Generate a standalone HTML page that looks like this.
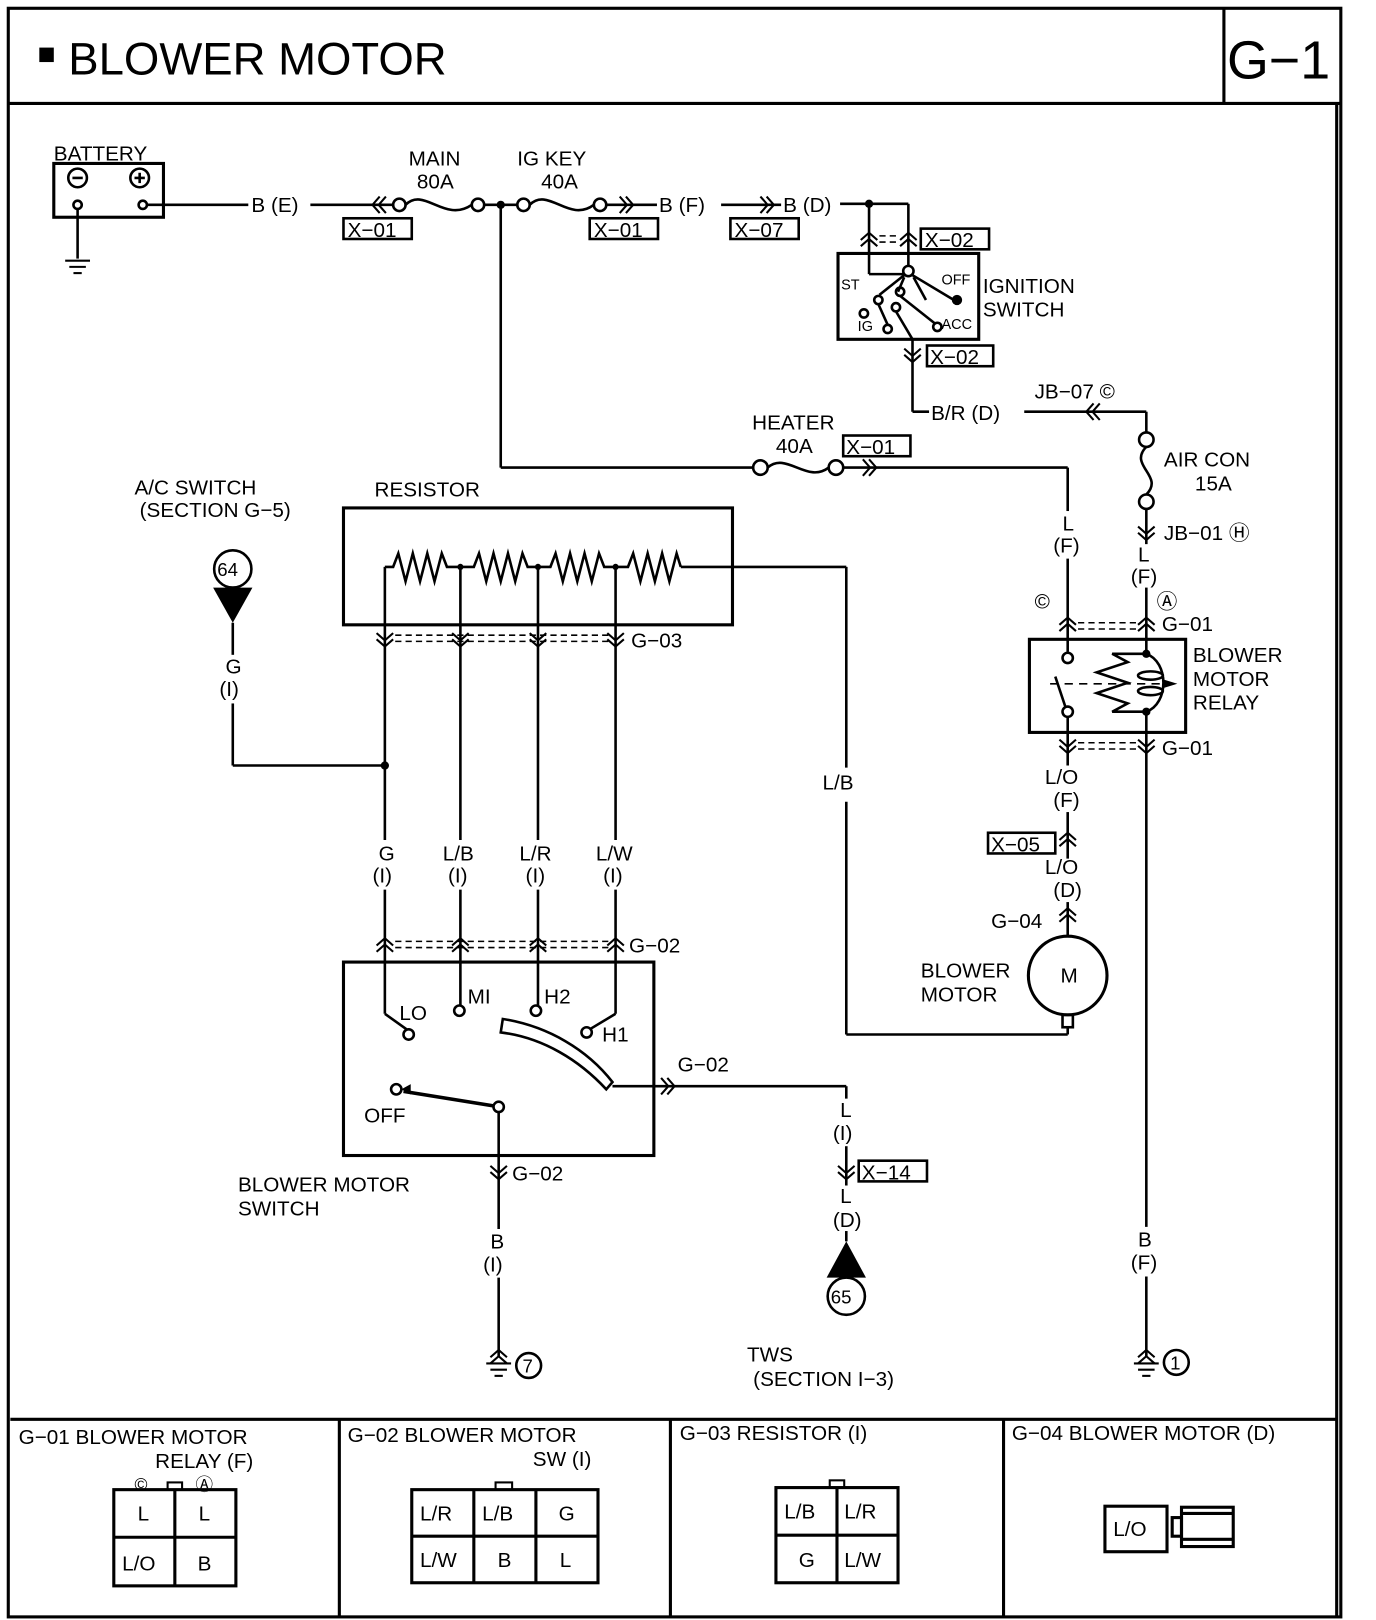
<!DOCTYPE html>
<html><head><meta charset="utf-8"><style>
html,body{margin:0;padding:0;background:#fff}
svg{display:block}
text{font-family:"Liberation Sans",sans-serif;font-size:20px;fill:#000}
</style></head><body>
<svg width="1376" height="1620" viewBox="0 0 1330 1566" preserveAspectRatio="none" xmlns="http://www.w3.org/2000/svg">
<defs>
<g id="cu" fill="none" stroke="#000" stroke-width="2"><polyline points="-8,7 0,0 8,7"/><polyline points="-8,13 0,6 8,13"/></g>
<g id="cd" fill="none" stroke="#000" stroke-width="2"><polyline points="-8,-7 0,0 8,-7"/><polyline points="-8,-13 0,-6 8,-13"/></g>
<g id="cr" fill="none" stroke="#000" stroke-width="2"><polyline points="-7,-8 0,0 -7,8"/><polyline points="-13,-8 -6,0 -13,8"/></g>
<g id="cl" fill="none" stroke="#000" stroke-width="2"><polyline points="7,-8 0,0 7,8"/><polyline points="13,-8 6,0 13,8"/></g>
<g id="gnd" stroke="#000" stroke-width="2"><line x1="-12" y1="0" x2="12" y2="0"/><line x1="-8" y1="6" x2="8" y2="6"/><line x1="-4" y1="12" x2="4" y2="12"/></g>
</defs>
<g fill="none" stroke="#000" stroke-width="3">
<rect x="8" y="8" width="1288" height="1555"/>
<line x1="8" y1="100" x2="1296" y2="100"/>
<line x1="1183" y1="8" x2="1183" y2="100"/>
<line x1="10" y1="1372" x2="1292" y2="1372"/>
<line x1="1292" y1="100" x2="1292" y2="1563"/>
<line x1="328" y1="1372" x2="328" y2="1563"/>
<line x1="648" y1="1372" x2="648" y2="1563"/>
<line x1="970" y1="1372" x2="970" y2="1563"/>
</g>
<rect x="38" y="46" width="14" height="14"/>
<text x="66" y="72" style="font-size:44px">BLOWER MOTOR</text>
<text x="1186" y="76" style="font-size:52px">G−1</text>

<g fill="none" stroke="#000" stroke-width="2.5">
<rect x="52" y="158" width="106" height="52" stroke-width="3"/>
<circle cx="75" cy="172" r="9"/><circle cx="135" cy="172" r="9"/>
<line x1="70" y1="172" x2="80" y2="172"/><line x1="130" y1="172" x2="140" y2="172"/><line x1="135" y1="167" x2="135" y2="177"/>
<circle cx="75" cy="198" r="4"/><circle cx="138" cy="198" r="4"/>
<line x1="75" y1="202" x2="75" y2="250"/>
<line x1="142" y1="198" x2="240" y2="198"/>
<line x1="300" y1="198" x2="380" y2="198"/>
<circle cx="386" cy="198" r="6"/>
<path d="M392,198 C410,180 430,216 456,198"/>
<circle cx="462" cy="198" r="6"/>
<line x1="468" y1="198" x2="500" y2="198"/>
<circle cx="506" cy="198" r="6"/>
<path d="M512,198 C530,180 550,216 574,198"/>
<circle cx="580" cy="198" r="6"/>
<line x1="586" y1="198" x2="635" y2="198"/>
<line x1="697" y1="198" x2="755" y2="198"/>
<line x1="812" y1="197" x2="878" y2="197"/>
<line x1="840" y1="197" x2="840" y2="265"/><line x1="840" y1="265" x2="874" y2="265"/>
<line x1="878" y1="197" x2="878" y2="257"/>
<rect x="810" y="245" width="136" height="83" stroke-width="3"/>
<circle cx="878" cy="262" r="5"/>
<line x1="882" y1="266" x2="922" y2="290"/>
<line x1="874" y1="266" x2="850" y2="285"/>
<line x1="874" y1="268" x2="868" y2="282"/>
<line x1="883" y1="268" x2="895" y2="290"/>
<circle cx="849" cy="290" r="4"/><circle cx="835" cy="303" r="4"/><circle cx="858" cy="318" r="4"/>
<circle cx="870" cy="282" r="4"/><circle cx="866" cy="297" r="4"/><circle cx="906" cy="316" r="4"/>
<line x1="849" y1="294" x2="858" y2="314"/>
<line x1="870" y1="286" x2="904" y2="313"/>
<line x1="866" y1="301" x2="882" y2="328"/>
<line x1="882" y1="328" x2="882" y2="398"/>
<line x1="882" y1="398" x2="898" y2="398"/>
<line x1="990" y1="398" x2="1108" y2="398"/>
<line x1="1108" y1="398" x2="1108" y2="418"/>
<circle cx="1108" cy="425" r="7"/>
<path d="M1108,432 C1090,450 1126,460 1108,478"/>
<circle cx="1108" cy="485" r="7"/>
<line x1="1108" y1="492" x2="1108" y2="526"/>
<line x1="1108" y1="568" x2="1108" y2="618"/>
<line x1="484" y1="198" x2="484" y2="452"/>
<line x1="484" y1="452" x2="728" y2="452"/>
<circle cx="735" cy="452" r="7"/>
<path d="M742,452 C760,436 780,468 801,452"/>
<circle cx="808" cy="452" r="7"/>
<line x1="815" y1="452" x2="1032" y2="452"/>
<line x1="1032" y1="452" x2="1032" y2="494"/>
<line x1="1032" y1="540" x2="1032" y2="630"/>
<rect x="995" y="618" width="151" height="90" stroke-width="3"/>
<circle cx="1032" cy="636" r="5"/><circle cx="1032" cy="688" r="5"/>
<line x1="1020" y1="654" x2="1030" y2="684"/>
<line x1="1032" y1="693" x2="1032" y2="740"/>
<line x1="1108" y1="618" x2="1108" y2="632"/>
<path d="M1108,632 L1075,632 L1090,640 L1060,650 L1090,660 L1060,670 L1090,680 L1075,688 L1108,688"/>
<path d="M1108,632 C1130,640 1130,680 1108,688"/>
<ellipse cx="1112" cy="653" rx="12" ry="4"/><ellipse cx="1112" cy="668" rx="12" ry="4"/>
<line x1="1015" y1="661" x2="1135" y2="661" stroke-dasharray="8,6" stroke-width="1.5"/>
<line x1="1108" y1="688" x2="1108" y2="1186"/>
<line x1="1108" y1="1234" x2="1108" y2="1312"/>
<line x1="1032" y1="785" x2="1032" y2="830"/>
<line x1="1032" y1="872" x2="1032" y2="905"/>
<circle cx="1032" cy="943" r="38" stroke-width="3"/>
<rect x="1027" y="981" width="10" height="12"/>
<line x1="1032" y1="993" x2="1032" y2="1000"/>
<line x1="1032" y1="1000" x2="818" y2="1000"/>
<line x1="818" y1="1000" x2="818" y2="775"/>
<line x1="818" y1="742" x2="818" y2="548"/>
<line x1="818" y1="548" x2="658" y2="548"/>
<rect x="332" y="491" width="376" height="113" stroke-width="3"/>
<path d="M372,548 L380,548 L385,535 L392,562 L399,535 L406,562 L413,535 L420,562 L427,535 L432,548 L458,548 L463,535 L470,562 L477,535 L484,562 L491,535 L498,562 L505,535 L510,548 L532,548 L537,535 L544,562 L551,535 L558,562 L565,535 L572,562 L579,535 L584,548 L607,548 L612,535 L619,562 L626,535 L633,562 L640,535 L647,562 L654,535 L658,548"/>
<line x1="372" y1="548" x2="372" y2="812"/><line x1="372" y1="860" x2="372" y2="980"/><line x1="372" y1="980" x2="393" y2="995"/>
<line x1="445" y1="548" x2="445" y2="812"/><line x1="445" y1="860" x2="445" y2="972"/>
<line x1="520" y1="548" x2="520" y2="812"/><line x1="520" y1="860" x2="520" y2="972"/>
<line x1="595" y1="548" x2="595" y2="812"/><line x1="595" y1="860" x2="595" y2="980"/><line x1="595" y1="980" x2="570" y2="995"/>
<line x1="225" y1="602" x2="225" y2="633"/><line x1="225" y1="680" x2="225" y2="740"/><line x1="225" y1="740" x2="372" y2="740"/>
<circle cx="225" cy="550" r="18"/>
<circle cx="818" cy="1253" r="18"/>
<rect x="332" y="930" width="300" height="187" stroke-width="3"/>
<circle cx="395" cy="1000" r="5"/><circle cx="444" cy="977" r="5"/><circle cx="518" cy="977" r="5"/><circle cx="567" cy="998" r="5"/>
<path d="M486,985 C530,992 568,1015 592,1046 L586,1053 C560,1025 525,1003 484,998 Z"/>
<line x1="592" y1="1050" x2="818" y2="1050"/>
<line x1="818" y1="1050" x2="818" y2="1062"/>
<line x1="818" y1="1108" x2="818" y2="1146"/>
<line x1="818" y1="1190" x2="818" y2="1200"/>
<circle cx="383" cy="1053" r="5"/><circle cx="482" cy="1070" r="5"/>
<line x1="390" y1="1055" x2="477" y2="1069" stroke-width="3.5"/>
<line x1="482" y1="1075" x2="482" y2="1188"/>
<line x1="482" y1="1235" x2="482" y2="1312"/>
<circle cx="511" cy="1320" r="12"/>
<circle cx="1137" cy="1317" r="12"/>
</g>
<polygon points="206,568 244,568 225,602"/>
<polygon points="799,1235 837,1235 818,1200"/>
<polygon points="388,1053 397,1048 397,1058"/>
<circle cx="484" cy="198" r="4"/><circle cx="840" cy="197" r="4"/>
<circle cx="925" cy="290" r="5"/>
<circle cx="372" cy="740" r="4"/><circle cx="445" cy="548" r="3"/><circle cx="520" cy="548" r="3"/><circle cx="595" cy="548" r="3"/>
<circle cx="1108" cy="632" r="4"/><circle cx="1108" cy="688" r="4"/>
<polygon points="1125,657 1138,661 1125,665"/>

<use href="#gnd" x="75" y="252"/>
<use href="#gnd" x="482" y="1318"/><use href="#gnd" x="1108" y="1318"/>
<use href="#cl" x="360" y="198"/><use href="#cr" x="612" y="198"/><use href="#cr" x="748" y="198"/>
<use href="#cu" x="840" y="225"/><use href="#cu" x="878" y="225"/>
<use href="#cd" x="882" y="350"/>
<use href="#cl" x="1050" y="398"/>
<use href="#cd" x="1108" y="522"/>
<use href="#cr" x="847" y="452"/>
<use href="#cu" x="1032" y="597"/><use href="#cu" x="1108" y="597"/>
<use href="#cd" x="1032" y="728"/><use href="#cd" x="1108" y="728"/>
<use href="#cu" x="1032" y="805"/><use href="#cu" x="1032" y="878"/>
<use href="#cd" x="372" y="625"/><use href="#cd" x="445" y="625"/><use href="#cd" x="520" y="625"/><use href="#cd" x="595" y="625"/>
<use href="#cu" x="372" y="907"/><use href="#cu" x="445" y="907"/><use href="#cu" x="520" y="907"/><use href="#cu" x="595" y="907"/>
<use href="#cr" x="652" y="1050"/>
<use href="#cd" x="482" y="1140"/><use href="#cd" x="818" y="1140"/>
<use href="#cu" x="482" y="1305"/><use href="#cu" x="1108" y="1305"/>
<g stroke="#000" stroke-width="1.5" stroke-dasharray="6,4">
<line x1="850" y1="228" x2="870" y2="228"/><line x1="850" y1="234" x2="870" y2="234"/>
<line x1="1042" y1="602" x2="1098" y2="602"/><line x1="1042" y1="608" x2="1098" y2="608"/>
<line x1="1042" y1="718" x2="1098" y2="718"/><line x1="1042" y1="724" x2="1098" y2="724"/>
<line x1="382" y1="614" x2="588" y2="614"/><line x1="382" y1="620" x2="588" y2="620"/>
<line x1="382" y1="910" x2="588" y2="910"/><line x1="382" y1="916" x2="588" y2="916"/>
</g>

<g fill="none" stroke="#000" stroke-width="2.5">
<rect x="332" y="211" width="66" height="20"/><rect x="570" y="211" width="66" height="20"/><rect x="706" y="211" width="66" height="20"/>
<rect x="890" y="221" width="66" height="20"/><rect x="896" y="334" width="64" height="20"/>
<rect x="815" y="421" width="65" height="20"/><rect x="955" y="805" width="65" height="20"/><rect x="830" y="1122" width="66" height="20"/>
</g>
<text x="336" y="229">X−01</text><text x="574" y="229">X−01</text><text x="710" y="229">X−07</text>
<text x="894" y="239">X−02</text><text x="899" y="352">X−02</text><text x="818" y="439">X−01</text>
<text x="958" y="823">X−05</text><text x="833" y="1140">X−14</text>

<text x="52" y="155">BATTERY</text>
<text x="243" y="205">B (E)</text>
<text x="395" y="160">MAIN</text><text x="403" y="182">80A</text>
<text x="500" y="160">IG KEY</text><text x="523" y="182">40A</text>
<text x="637" y="205">B (F)</text><text x="757" y="205">B (D)</text>
<text x="813" y="280" style="font-size:14px">ST</text><text x="910" y="275" style="font-size:14px">OFF</text>
<text x="829" y="320" style="font-size:14px">IG</text><text x="910" y="318" style="font-size:14px">ACC</text>
<text x="950" y="283">IGNITION</text><text x="950" y="306">SWITCH</text>
<text x="900" y="406">B/R (D)</text>
<text x="1000" y="385">JB−07 ©</text>
<text x="1125" y="451">AIR CON</text><text x="1155" y="474">15A</text>
<text x="1125" y="522">JB−01 Ⓗ</text>
<text x="1100" y="543">L</text><text x="1093" y="564">(F)</text>
<text x="1118" y="588">Ⓐ</text><text x="1000" y="588">©</text>
<text x="727" y="415">HEATER</text><text x="750" y="438">40A</text>
<text x="1027" y="513">L</text><text x="1018" y="534">(F)</text>
<text x="1123" y="610">G−01</text><text x="1123" y="730">G−01</text>
<text x="1153" y="640">BLOWER</text><text x="1153" y="663">MOTOR</text><text x="1153" y="686">RELAY</text>
<text x="1010" y="758">L/O</text><text x="1018" y="780">(F)</text>
<text x="1010" y="845">L/O</text><text x="1018" y="867">(D)</text>
<text x="958" y="897">G−04</text>
<text x="1025" y="950">M</text>
<text x="890" y="945">BLOWER</text><text x="890" y="968">MOTOR</text>
<text x="795" y="763">L/B</text>
<text x="1100" y="1205">B</text><text x="1093" y="1227">(F)</text>
<text x="1131" y="1324" style="font-size:18px">1</text>
<text x="362" y="480">RESISTOR</text>
<text x="130" y="478">A/C SWITCH</text><text x="135" y="500">(SECTION G−5)</text>
<text x="210" y="557" style="font-size:18px">64</text>
<text x="218" y="651">G</text><text x="212" y="673">(I)</text>
<text x="610" y="626">G−03</text><text x="608" y="921">G−02</text>
<text x="366" y="832">G</text><text x="360" y="853">(I)</text>
<text x="428" y="832">L/B</text><text x="433" y="853">(I)</text>
<text x="502" y="832">L/R</text><text x="508" y="853">(I)</text>
<text x="576" y="832">L/W</text><text x="583" y="853">(I)</text>
<text x="386" y="986">LO</text><text x="452" y="970">MI</text><text x="526" y="970">H2</text><text x="582" y="1007">H1</text>
<text x="352" y="1085">OFF</text>
<text x="655" y="1036">G−02</text>
<text x="812" y="1080">L</text><text x="805" y="1102">(I)</text>
<text x="812" y="1163">L</text><text x="805" y="1186">(D)</text>
<text x="803" y="1260" style="font-size:18px">65</text>
<text x="495" y="1141">G−02</text>
<text x="474" y="1207">B</text><text x="467" y="1229">(I)</text>
<text x="505" y="1327" style="font-size:18px">7</text>
<text x="230" y="1152">BLOWER MOTOR</text><text x="230" y="1175">SWITCH</text>
<text x="722" y="1316">TWS</text><text x="728" y="1340">(SECTION I−3)</text>

<text x="18" y="1396">G−01 BLOWER MOTOR</text><text x="150" y="1419">RELAY (F)</text>
<text x="336" y="1394">G−02 BLOWER MOTOR</text><text x="515" y="1417">SW (I)</text>
<text x="657" y="1392">G−03 RESISTOR (I)</text>
<text x="978" y="1392">G−04 BLOWER MOTOR (D)</text>
<g fill="none" stroke="#000" stroke-width="3">
<rect x="110" y="1440" width="118" height="93"/><line x1="169" y1="1440" x2="169" y2="1533"/><line x1="110" y1="1486" x2="228" y2="1486"/>
<rect x="162" y="1433" width="14" height="7" stroke-width="2"/>
<rect x="398" y="1440" width="180" height="90"/><line x1="458" y1="1440" x2="458" y2="1530"/><line x1="518" y1="1440" x2="518" y2="1530"/><line x1="398" y1="1485" x2="578" y2="1485"/>
<rect x="479" y="1433" width="16" height="7" stroke-width="2"/>
<rect x="750" y="1438" width="118" height="92"/><line x1="809" y1="1438" x2="809" y2="1530"/><line x1="750" y1="1484" x2="868" y2="1484"/>
<rect x="802" y="1431" width="14" height="7" stroke-width="2"/>
<rect x="1068" y="1456" width="60" height="44"/>
<rect x="1142" y="1457" width="50" height="38"/><rect x="1133" y="1467" width="9" height="18"/>
<line x1="1142" y1="1463" x2="1192" y2="1463"/><line x1="1142" y1="1488" x2="1192" y2="1488"/>
</g>
<text x="130" y="1441" style="font-size:17px">©</text><text x="189" y="1441" style="font-size:17px">Ⓐ</text>
<text x="133" y="1470">L</text><text x="192" y="1470">L</text><text x="118" y="1518">L/O</text><text x="191" y="1518">B</text>
<text x="406" y="1470">L/R</text><text x="466" y="1470">L/B</text><text x="540" y="1470">G</text>
<text x="406" y="1515">L/W</text><text x="481" y="1515">B</text><text x="541" y="1515">L</text>
<text x="758" y="1468">L/B</text><text x="816" y="1468">L/R</text><text x="772" y="1515">G</text><text x="816" y="1515">L/W</text>
<text x="1076" y="1485">L/O</text>
</svg>
</body></html>
